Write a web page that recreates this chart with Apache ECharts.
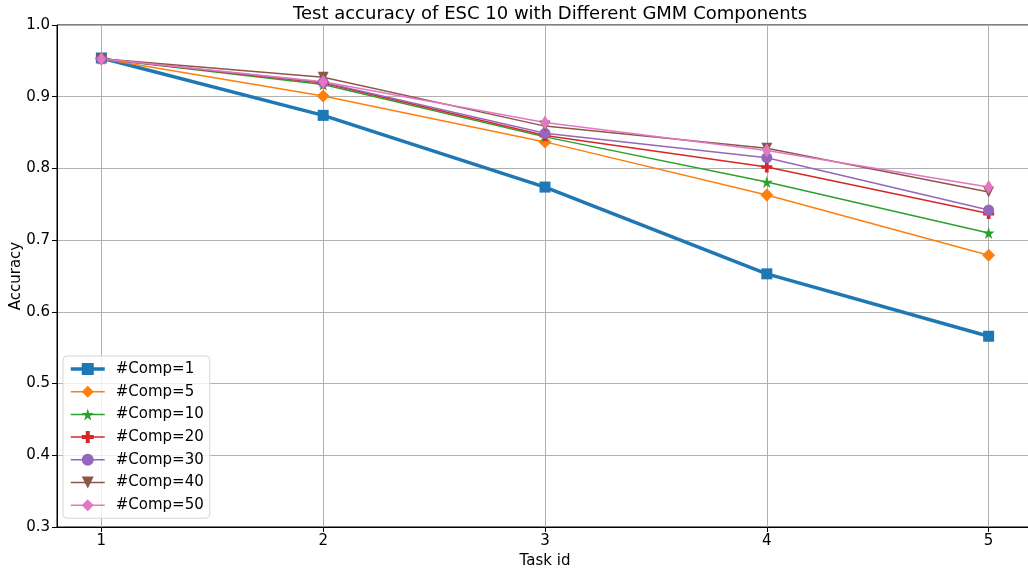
<!DOCTYPE html>
<html>
<head>
<meta charset="utf-8">
<script src="https://cdn.jsdelivr.net/npm/echarts@6/dist/echarts.min.js"></script>
<style>
  html, body { margin: 0; padding: 0; background: #fff; }
  #main { width: 1028px; height: 569px; }
</style>
</head>
<body>
<div id="main"></div>
<script>
// task ids on the x axis
var tasks = [1, 2, 3, 4, 5]

// accuracy per task, one array per GMM component count
var comp1 = [0.954, 0.874, 0.774, 0.653, 0.566]
var comp5 = [0.953, 0.901, 0.837, 0.763, 0.679]
var comp10 = [0.953, 0.917, 0.844, 0.781, 0.710]
var comp20 = [0.953, 0.919, 0.846, 0.802, 0.737]
var comp30 = [0.953, 0.920, 0.849, 0.815, 0.742]
var comp40 = [0.953, 0.927, 0.859, 0.828, 0.767]
var comp50 = [0.953, 0.921, 0.864, 0.825, 0.774]

var names = ['#Comp=1', '#Comp=5', '#Comp=10', '#Comp=20', '#Comp=30', '#Comp=40', '#Comp=50']
var values = [comp1, comp5, comp10, comp20, comp30, comp40, comp50]
var colors = ['#1f77b4', '#ff7f0e', '#2ca02c', '#d62728', '#9467bd', '#8c564b', '#e377c2']

var STAR = 'path://M50,0 L61,35 L98,35 L68,57 L79,91 L50,70 L21,91 L32,57 L2,35 L39,35 Z'
var PLUS = 'path://M4,0 L8,0 L8,4 L12,4 L12,8 L8,8 L8,12 L4,12 L4,8 L0,8 L0,4 L4,4 Z'
var symbols = ['rect', 'diamond', STAR, PLUS, 'circle', 'triangle', 'diamond']
var symbolSizes = [11, 13, 12, 11, 11, 11, [9, 14]]
var symbolRotates = [0, 0, 0, 0, 0, 180, 0]
var lineWidths = [3.5, 1.5, 1.5, 1.5, 1.5, 1.5, 1.5]

var FONT = 'DejaVu Sans'

var myChart = echarts.init(document.getElementById('main'), null, { renderer: 'canvas' })

var series = names.map(function (n, i) {
  return {
    name: n,
    type: 'line',
    data: tasks.map(function (t, k) { return [t, values[i][k]] }),
    symbol: symbols[i],
    symbolSize: symbolSizes[i],
    symbolRotate: symbolRotates[i],
    showAllSymbol: true,
    color: colors[i],
    lineStyle: { width: lineWidths[i], color: colors[i] },
    itemStyle: { color: colors[i] },
    emphasis: { disabled: true }
  }
})

var legendData = names.map(function (n, i) {
  return { name: n, lineStyle: { width: lineWidths[i], color: colors[i] } }
})

var option = {
  animation: false,
  textStyle: { fontFamily: FONT },
  title: {
    text: 'Test accuracy of ESC 10 with Different GMM Components',
    left: 545,
    textAlign: 'center',
    top: 0,
    textStyle: { fontFamily: FONT, fontSize: 18, fontWeight: 'normal', color: '#000' }
  },
  // y axis title placed by hand (axis name kept drifting to the edge)
  graphic: [{
    type: 'text',
    x: 16,
    y: 276,
    rotation: Math.PI / 2,
    style: {
      text: 'Accuracy',
      font: '15px "DejaVu Sans"',
      fill: '#000',
      align: 'center',
      verticalAlign: 'middle'
    }
  }],
  grid: {
    left: 57,
    right: -5,
    top: 25,
    bottom: 42,
    outerBoundsMode: 'none',
    containLabel: false,
    show: true,
    borderColor: '#000',
    borderWidth: 1,
    backgroundColor: 'transparent'
  },
  legend: {
    orient: 'vertical',
    left: 63,
    top: 356,
    itemWidth: 34,
    itemHeight: 15,
    itemGap: 7.7,
    padding: [5.5, 6, 5.5, 6],
    backgroundColor: 'rgba(255,255,255,0.8)',
    borderColor: '#d6d6d6',
    borderWidth: 1,
    borderRadius: 4,
    textStyle: { fontFamily: FONT, fontSize: 15, color: '#000', padding: [0, 0, 0, 6] },
    data: legendData
  },
  xAxis: {
    type: 'value',
    min: 0.8,
    max: 5.2,
    name: 'Task id',
    nameLocation: 'middle',
    nameGap: 25,
    nameTextStyle: { fontFamily: FONT, fontSize: 15, color: '#000' },
    axisLine: { show: true, lineStyle: { color: '#000', width: 1 } },
    axisTick: { show: true, inside: false, length: 5, customValues: tasks, lineStyle: { color: '#000' } },
    axisLabel: { customValues: tasks, fontFamily: FONT, fontSize: 15, color: '#000', margin: 7 },
    splitLine: { show: true, lineStyle: { color: '#b0b0b0', width: 1 } }
  },
  yAxis: {
    type: 'value',
    min: 0.3,
    max: 1.0,
    interval: 0.1,
    axisLine: { show: true, lineStyle: { color: '#000', width: 1 } },
    axisTick: { show: true, length: 5, lineStyle: { color: '#000' } },
    axisLabel: {
      fontFamily: FONT, fontSize: 15, color: '#000', margin: 7,
      formatter: function (v) { return v.toFixed(1) }
    },
    splitLine: { show: true, lineStyle: { color: '#b0b0b0', width: 1 } }
  },
  series: series
}

myChart.setOption(option)
window.addEventListener('resize', function () { myChart.resize() }, false)
</script>
</body>
</html>
